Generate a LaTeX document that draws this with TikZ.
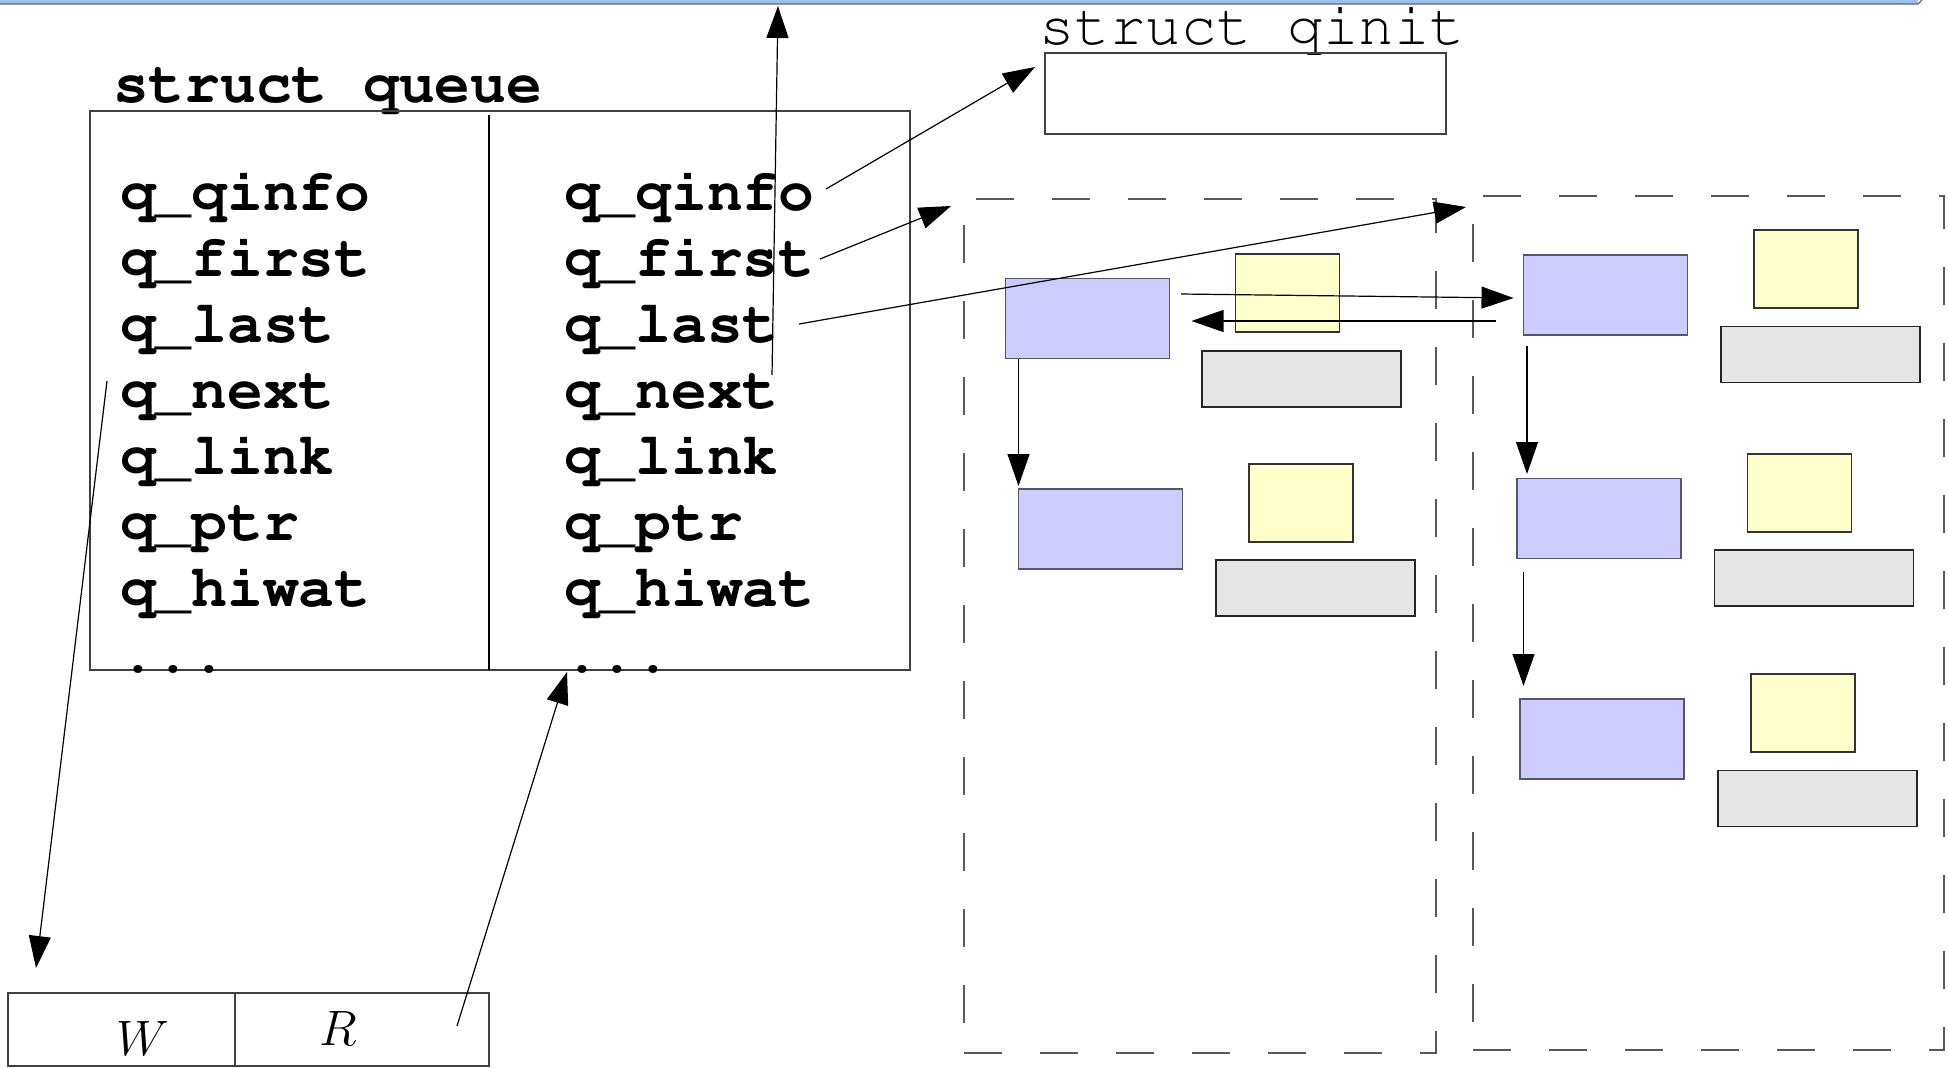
\documentclass[tikz,border=0pt]{standalone}
\usepackage[T1]{fontenc}
\usepackage{fontspec}
\newcommand\codefont{\fontencoding{T1}\fontfamily{pcr}\selectfont}
\usetikzlibrary{arrows.meta}
\definecolor{mblue}{HTML}{CCCCFF}
\definecolor{mblueline}{HTML}{55556E}
\definecolor{dyellow}{HTML}{FFFFCC}
\definecolor{bgray}{HTML}{E6E6E6}
\definecolor{barblue}{RGB}{153,194,240}

\begin{document}
\begin{tikzpicture}[x=0.5pt,y=-0.5pt,inner sep=0pt,outer sep=0pt,line width=0.6pt,
>={Triangle[length=16pt,width=11pt]},
field/.style={anchor=base west,font=\codefont\bfseries\fontsize{29.8}{34}\selectfont},
title/.style={anchor=base west,font=\codefont\fontsize{29.6}{34}\selectfont},
sbox/.style={draw=black!75,rectangle},
qgroup/.style={draw=black!65,rectangle,dash pattern=on 19pt off 19pt},
msgblk/.style={draw=mblueline,fill=mblue,minimum width=82pt,minimum height=40pt},
datablk/.style={draw=black!80,fill=dyellow,minimum width=52pt,minimum height=39pt},
bufblk/.style={draw=black!85,fill=bgray,minimum width=99.5pt,minimum height=28pt}]

\useasboundingbox (0,0) rectangle (1948,1067);

\draw (959,2) node[fill=barblue,minimum width=959pt,minimum height=2pt] (bar) {};
\draw[black!60] (bar.south west) -- (bar.south east) -- ++(4,-4);

% struct queue
\draw (113,102) node[field] (qtitle) {struct queue};
\draw (500,390.5) node[sbox,minimum width=410pt,minimum height=279.5pt] (queue) {};
\draw (queue.north west) ++(399,4) -- ++(0,555);

\draw (120,210) node[field] (lqinfo) {q\_qinfo};
\draw (120,276) node[field] (lfirst) {q\_first};
\draw (120,342) node[field] (llast) {q\_last};
\draw (120,408) node[field] (lnext) {q\_next};
\draw (120,474) node[field] (llink) {q\_link};
\draw (120,540) node[field] (lptr) {q\_ptr};
\draw (120,606) node[field] (lhiwat) {q\_hiwat};
\draw (120,672) node[field] (ldots) {...};

\draw (564,210) node[field] (rqinfo) {q\_qinfo};
\draw (564,276) node[field] (rfirst) {q\_first};
\draw (564,342) node[field] (rlast) {q\_last};
\draw (564,408) node[field] (rnext) {q\_next};
\draw (564,474) node[field] (rlink) {q\_link};
\draw (564,540) node[field] (rptr) {q\_ptr};
\draw (564,606) node[field] (rhiwat) {q\_hiwat};
\draw (564,672) node[field] (rdots) {...};

% struct qinit
\draw (1039,44) node[title] (ititle) {struct qinit};
\draw (1245.5,93.5) node[sbox,minimum width=200.5pt,minimum height=40.5pt] (qinit) {};

% W / R
\draw (121.5,1029.5) node[sbox,minimum width=113.5pt,minimum height=36.5pt] (wcell) {};
\draw (362,1029.5) node[sbox,minimum width=127pt,minimum height=36.5pt] (rcell) {};
\draw (143,1055) node[anchor=base,font=\fontsize{31}{36}\selectfont] (wlabel) {$W$};
\draw (338,1045) node[anchor=base,font=\fontsize{31}{36}\selectfont] (rlabel) {$R$};

% message lists
\draw (1200,626) node[qgroup,minimum width=236pt,minimum height=427pt] (lgrp) {};
\draw (1708.5,623) node[qgroup,minimum width=235.5pt,minimum height=427pt] (rgrp) {};

\draw (1087.5,318.5) node[msgblk] (msgb1) {};
\draw (1287.5,293) node[datablk] (datab1) {};
\draw (1301.5,379) node[bufblk] (dbuf1) {};
\draw (1100.5,529) node[msgblk] (msgb2) {};
\draw (1301,503) node[datablk] (datab2) {};
\draw (1315.5,588) node[bufblk] (dbuf2) {};

\draw (1605.5,295) node[msgblk] (msgb3) {};
\draw (1806,269) node[datablk] (datab3) {};
\draw (1820.5,354.5) node[bufblk] (dbuf3) {};
\draw (1599,518.5) node[msgblk] (msgb4) {};
\draw (1799.5,493) node[datablk] (datab4) {};
\draw (1814,578) node[bufblk] (dbuf4) {};
\draw (1602,739) node[msgblk] (msgb5) {};
\draw (1803,713) node[datablk] (datab5) {};
\draw (1817.5,798.5) node[bufblk] (dbuf5) {};

% pointers
\draw[->] (rnext.base west) ++(208,-33) -- ([shift={(389pt,-1pt)}]bar.south west);
\draw[->] (rqinfo.base west) ++(262,-21) -- ([shift={(-5pt,-7pt)}]qinit.north west);
\draw[->] (rfirst.base west) ++(256,-17) -- ([shift={(-6.5pt,-3.5pt)}]lgrp.north west);
\draw[->] (rlast.base west) ++(235,-18) -- ([shift={(-3.5pt,-5.5pt)}]rgrp.north west);
\draw[->] (msgb1.east) ++(11.5,-24.5) -- ([shift={(-5pt,-1.5pt)}]msgb3.west);
\draw[->] (msgb3.west) ++(-27.5,26) -- ([shift={(11pt,-1.25pt)}]msgb1.east);
\draw[->] (msgb1.south -| msgb2.north west) -- ([yshift=1.5pt]msgb2.north west);
\draw[->] (msgb3.south west) ++(3.5,11) -- ++(0,128);
\draw[->] (msgb4.south west) ++(6.5,13.5) -- ++(0,114);
\draw[->] (lnext.base west) ++(-13,-27) -- ([shift={(14pt,12.5pt)}]wcell.north west);
\draw[->] (rcell.north east) ++(-32,33) -- ([xshift=1.5pt]rdots.base west);
\end{tikzpicture}
\end{document}
